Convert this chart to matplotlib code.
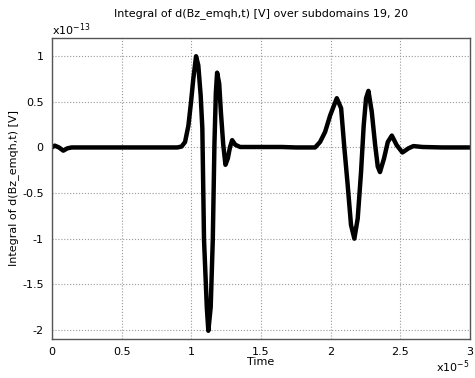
import matplotlib
matplotlib.use("Agg")
import matplotlib.pyplot as plt
from matplotlib.ticker import FuncFormatter

# time in units of 1e-5 s, value in units of 1e-13 V
t_scaled = [0.0, 0.02, 0.05, 0.081, 0.11, 0.14, 0.5, 0.90, 0.93, 0.955, 0.979,
            0.998, 1.014, 1.034, 1.05, 1.067, 1.079, 1.091, 1.111, 1.122, 1.139,
            1.154, 1.166, 1.176, 1.185, 1.2, 1.212, 1.229, 1.245, 1.262, 1.277,
            1.293, 1.315, 1.35, 1.45, 1.55, 1.65, 1.75, 1.85, 1.888, 1.924,
            1.96, 1.996, 2.044, 2.075, 2.098, 2.122, 2.146, 2.17, 2.194, 2.218,
            2.237, 2.254, 2.271, 2.295, 2.319, 2.338, 2.354, 2.383, 2.41, 2.439,
            2.474, 2.515, 2.558, 2.594, 2.66, 2.8, 3.0]
v_scaled = [0.0, 0.02, 0.0, -0.035, -0.01, 0.0, 0.0, 0.0, 0.01, 0.06, 0.24,
            0.50, 0.75, 1.0, 0.9, 0.57, 0.21, -1.01, -1.75, -2.01, -1.75,
            -1.01, 0.05, 0.6, 0.82, 0.7, 0.39, 0.03, -0.19, -0.12, 0.0,
            0.08, 0.03, 0.005, 0.005, 0.005, 0.005, 0.0, 0.0, 0.0, 0.06,
            0.17, 0.35, 0.54, 0.43, 0.0, -0.41, -0.85, -1.0, -0.78, -0.27,
            0.24, 0.54, 0.62, 0.39, 0.03, -0.21, -0.27, -0.12, 0.06, 0.13,
            0.025, -0.055, -0.01, 0.015, 0.005, 0.0, 0.0]

x_ticks = [0, 0.5, 1, 1.5, 2, 2.5, 3]
y_ticks = [1, 0.5, 0, -0.5, -1, -1.5, -2]
t_scale = 1e-5
v_scale = 1e-13

t = [x * t_scale for x in t_scaled]
v = [y * v_scale for y in v_scaled]

plt.rcParams["font.family"] = ["DejaVu Sans"]
fig = plt.figure(figsize=(4.75, 3.78), dpi=100)
ax = fig.add_axes([52 / 475, 1 - 339 / 378, 418 / 475, 301 / 378])

ax.plot(t, v, "-", color="black", lw=3.2, solid_joinstyle="round")
ax.set_xlim(0, 3 * t_scale)
ax.set_ylim(-2.1 * v_scale, 1.2 * v_scale)
ax.set_xticks([x * t_scale for x in x_ticks])
ax.set_yticks([y * v_scale for y in y_ticks])
ax.xaxis.set_major_formatter(FuncFormatter(lambda x, p: f"{x / t_scale:g}"))
ax.yaxis.set_major_formatter(FuncFormatter(lambda y, p: f"{y / v_scale:g}"))
ax.tick_params(length=0, labelsize=8, colors="black", pad=6)
ax.grid(True, linestyle=":", color="#999999", lw=0.8)
for s in ax.spines.values():
    s.set_color("#555555")
    s.set_linewidth(1.0)

ax.set_xlabel("Time", fontsize=8, labelpad=0)
ax.set_ylabel("Integral of d(Bz_emqh,t) [V]", fontsize=8, labelpad=2)
ax.set_title("Integral of d(Bz_emqh,t) [V] over subdomains 19, 20", fontsize=8, pad=16)
ax.text(0.0, 1.0, r"x10$^{-13}$", transform=ax.transAxes, fontsize=8, va="bottom", ha="left")
ax.text(1.0, -0.065, r"x10$^{-5}$", transform=ax.transAxes, fontsize=8, va="top", ha="right")

fig.savefig("out.png", dpi=100)
plt.close(fig)
